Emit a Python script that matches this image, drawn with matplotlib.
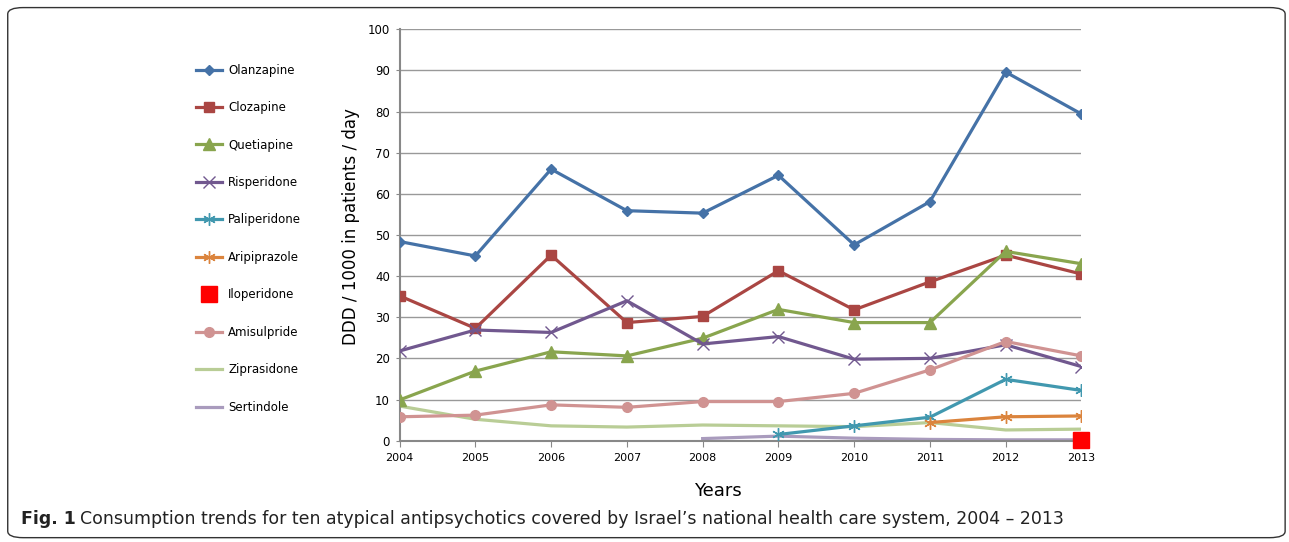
import numpy as np
import matplotlib
matplotlib.use('Agg')
import matplotlib.pyplot as plt
from matplotlib.patches import FancyBboxPatch

# --- data ---
years = [2004, 2005, 2006, 2007, 2008, 2009, 2010, 2011, 2012, 2013]

olanzapine = [48.4, 44.9, 66.0, 55.9, 55.3, 64.5, 47.6, 58.1, 89.6, 79.4]
clozapine = [35.2, 27.3, 45.1, 28.7, 30.2, 41.3, 31.8, 38.6, 45.1, 40.5]
quetiapine = [9.9, 16.9, 21.6, 20.6, 24.9, 31.9, 28.7, 28.7, 46.0, 43.0]
risperidone = [21.8, 26.9, 26.3, 34.0, 23.5, 25.3, 19.8, 20.0, 23.3, 18.0]
paliperidone = [None, None, None, None, None, 1.5, 3.6, 5.7, 14.9, 12.2]
aripiprazole = [None, None, None, None, None, None, None, 4.4, 5.8, 6.0]
iloperidone = [None, None, None, None, None, None, None, None, None, 0.2]
amisulpride = [5.8, 6.2, 8.7, 8.1, 9.5, 9.5, 11.5, 17.2, 24.1, 20.6]
ziprasidone = [8.4, 5.2, 3.6, 3.3, 3.8, 3.6, 3.4, 4.4, 2.6, 2.8]
sertindole = [None, None, None, None, 0.5, 1.1, 0.6, 0.3, 0.2, 0.2]

series = [
    ("Olanzapine", olanzapine, '#4572A7', 'D', 5.5),
    ("Clozapine", clozapine, '#AA4643', 's', 7),
    ("Quetiapine", quetiapine, '#89A54E', '^', 8),
    ("Risperidone", risperidone, '#71588F', 'x', 8),
    ("Paliperidone", paliperidone, '#4198AF', '*', 0),
    ("Aripiprazole", aripiprazole, '#DB843D', '*', 0),
    ("Iloperidone", iloperidone, '#FF0000', 's', 12),
    ("Amisulpride", amisulpride, '#D09392', 'o', 7),
    ("Ziprasidone", ziprasidone, '#B9CD96', None, 0),
    ("Sertindole", sertindole, '#A99BBD', None, 0),
]

fig = plt.figure(figsize=(12.89, 5.42), dpi=100)
ax = fig.add_axes([0.310, 0.187, 0.529, 0.759])

handles = []
for name, vals, col, mk, ms in series:
    y = np.array([np.nan if v is None else v for v in vals], dtype=float)
    if name == "Iloperidone":
        h, = ax.plot(years, y, linestyle='none', marker='s', markersize=ms,
                     color=col, label=name, clip_on=False, zorder=5)
    elif name in ("Paliperidone", "Aripiprazole"):
        # asterisk-like marker
        h, = ax.plot(years, y, color=col, lw=2.3, marker=(6, 2, 0),
                     markersize=9, markeredgewidth=1.0, label=name, zorder=3)
    elif mk is None:
        h, = ax.plot(years, y, color=col, lw=2.3, label=name, zorder=2)
    elif mk == 'x':
        h, = ax.plot(years, y, color=col, lw=2.3, marker='x', markersize=ms,
                     markeredgewidth=1.0, label=name, zorder=3)
    else:
        h, = ax.plot(years, y, color=col, lw=2.3, marker=mk, markersize=ms,
                     markeredgecolor=col, label=name, zorder=3)
    handles.append(h)

ax.set_xlim(2004, 2013)
ax.set_ylim(0, 100)
ax.set_yticks(range(0, 101, 10))
ax.set_xticks(years)
ax.set_xticklabels([str(y) for y in years], fontsize=8)
ax.tick_params(axis='y', labelsize=8.5, length=3, color='#888888', pad=4)
ax.tick_params(axis='x', length=4, color='#888888', pad=5)
ax.grid(axis='y', color='#999999', lw=1.0)
ax.set_axisbelow(True)
for s in ['top', 'right']:
    ax.spines[s].set_visible(False)
for s in ['left', 'bottom']:
    ax.spines[s].set_color('#888888')
    ax.spines[s].set_linewidth(1.5)

ax.set_ylabel("DDD / 1000 in patients / day", fontsize=12)
ax.yaxis.set_label_coords(-0.058, 0.52)
ax.set_xlabel("Years", fontsize=13)
ax.xaxis.set_label_coords(0.467, -0.10)

fig.legend(handles=handles, loc='upper left', bbox_to_anchor=(0.144, 0.902),
           frameon=False, fontsize=8.5, handlelength=2.2, labelspacing=2.07,
           numpoints=1, handletextpad=0.5)

# rounded border around the whole figure
box = FancyBboxPatch((0.006, 0.008), 0.991, 0.978, boxstyle="round,pad=0,rounding_size=0.012",
                     transform=fig.transFigure, fill=False, edgecolor='#333333', lw=1.0)
fig.patches.append(box)

# caption
t1 = fig.text(0.016, 0.034, "Fig. 1", fontsize=12.5, fontweight='bold', color='#222222')
fig.canvas.draw()
bb = t1.get_window_extent()
x2 = (bb.x1 + 5) / fig.bbox.width
fig.text(x2, 0.034,
         "Consumption trends for ten atypical antipsychotics covered by Israel\u2019s national health care system, 2004 \u2013 2013",
         fontsize=12.5, color='#222222')

fig.savefig("out.png", dpi=100)
plt.close()
